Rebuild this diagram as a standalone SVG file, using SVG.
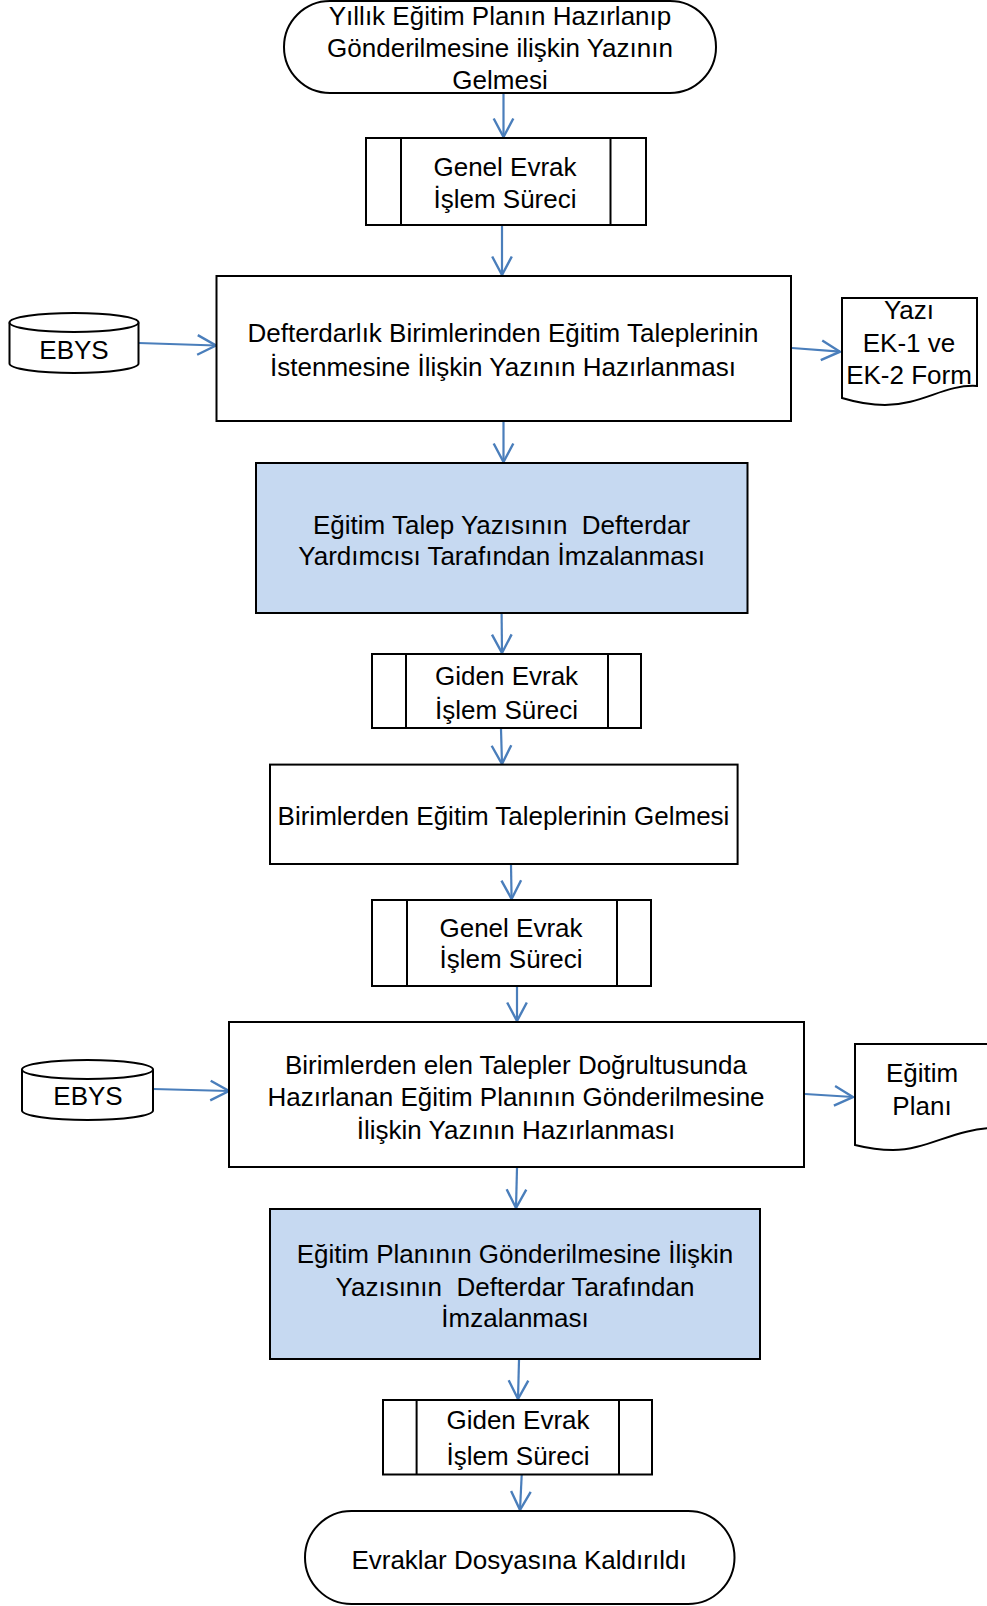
<svg xmlns="http://www.w3.org/2000/svg" width="987" height="1606" viewBox="0 0 987 1606">
<style>
.s{fill:#fff;stroke:#000;stroke-width:2}
.b{fill:#c6d9f1;stroke:#000;stroke-width:2}
.ln{fill:none;stroke:#000;stroke-width:2}
.t{font-family:"Liberation Sans",Arial,sans-serif;font-size:26px;fill:#000;text-anchor:middle;white-space:pre}
.c{fill:none;stroke:#4a7ebb;stroke-width:2.2}
</style>
<defs>
<marker id="ah" markerUnits="userSpaceOnUse" markerWidth="24" markerHeight="24" viewBox="-19 -11 22 22" refX="0" refY="0" orient="auto">
<path d="M-17,-9 L0,0 L-17,9" fill="none" stroke="#4a7ebb" stroke-width="2.2"/>
</marker>
</defs>
<rect width="987" height="1606" fill="#fff"/>
<g id="connectors">
<line class="c" x1="503.5" y1="93" x2="503.5" y2="137" marker-end="url(#ah)"/>
<line class="c" x1="502" y1="226" x2="502" y2="275" marker-end="url(#ah)"/>
<line class="c" x1="503.5" y1="422" x2="503.5" y2="462" marker-end="url(#ah)"/>
<line class="c" x1="501.6" y1="614" x2="502" y2="653" marker-end="url(#ah)"/>
<line class="c" x1="501" y1="729" x2="502" y2="764" marker-end="url(#ah)"/>
<line class="c" x1="511" y1="865" x2="511.6" y2="899" marker-end="url(#ah)"/>
<line class="c" x1="517" y1="987" x2="517" y2="1021" marker-end="url(#ah)"/>
<line class="c" x1="517" y1="1168" x2="516" y2="1208" marker-end="url(#ah)"/>
<line class="c" x1="519" y1="1360" x2="518" y2="1399" marker-end="url(#ah)"/>
<line class="c" x1="521.7" y1="1475" x2="520" y2="1510" marker-end="url(#ah)"/>
<line class="c" x1="138.5" y1="343" x2="216" y2="345.5" marker-end="url(#ah)"/>
<line class="c" x1="792" y1="348" x2="840" y2="351.7" marker-end="url(#ah)"/>
<line class="c" x1="153" y1="1089" x2="229" y2="1091" marker-end="url(#ah)"/>
<line class="c" x1="805" y1="1094" x2="853" y2="1097" marker-end="url(#ah)"/>
</g>
<g id="start">
<rect class="s" x="284" y="1" width="432" height="92" rx="46" ry="46"/>
<text class="t" x="500" y="25">Yıllık Eğitim Planın Hazırlanıp</text>
<text class="t" x="500" y="57">Gönderilmesine ilişkin Yazının</text>
<text class="t" x="500" y="89">Gelmesi</text>
</g>
<g id="genel1">
<rect class="s" x="366" y="138" width="280" height="87"/>
<line class="ln" x1="401" y1="138" x2="401" y2="225"/>
<line class="ln" x1="610.5" y1="138" x2="610.5" y2="225"/>
<text class="t" x="505" y="175.5">Genel Evrak</text>
<text class="t" x="505" y="208">İşlem Süreci</text>
</g>
<g id="ebys1">
<path class="s" d="M9.5,322.5 A64.5,9.5 0 0 1 138.5,322.5 V363.5 A64.5,9.5 0 0 1 9.5,363.5 Z"/>
<path class="ln" d="M9.5,322.5 A64.5,9.5 0 0 0 138.5,322.5"/>
<text class="t" x="74" y="359">EBYS</text>
</g>
<g id="hazirlama1">
<rect class="s" x="216.5" y="276" width="574.5" height="145"/>
<text class="t" x="503" y="342">Defterdarlık Birimlerinden Eğitim Taleplerinin</text>
<text class="t" x="503" y="375.5">İstenmesine İlişkin Yazının Hazırlanması</text>
</g>
<g id="doc1">
<path class="s" d="M842,298 H977 V386 C945,384 922,405 885,405 C866,405 852,401 842,398 Z"/>
<text class="t" x="909" y="319">Yazı</text>
<text class="t" x="909" y="352">EK-1 ve</text>
<text class="t" x="909" y="384">EK-2 Form</text>
</g>
<g id="imza1">
<rect class="b" x="256" y="463" width="491.5" height="150"/>
<text class="t" x="501.6" y="533.5">Eğitim Talep Yazısının  Defterdar</text>
<text class="t" x="501.6" y="564.5">Yardımcısı Tarafından İmzalanması</text>
</g>
<g id="giden1">
<rect class="s" x="372" y="654" width="269" height="74"/>
<line class="ln" x1="406" y1="654" x2="406" y2="728"/>
<line class="ln" x1="608" y1="654" x2="608" y2="728"/>
<text class="t" x="506.6" y="685">Giden Evrak</text>
<text class="t" x="506.6" y="719">İşlem Süreci</text>
</g>
<g id="gelme">
<rect class="s" x="270" y="764.6" width="467.6" height="99.4"/>
<text class="t" x="503.5" y="825">Birimlerden Eğitim Taleplerinin Gelmesi</text>
</g>
<g id="genel2">
<rect class="s" x="372" y="900" width="279" height="86"/>
<line class="ln" x1="407" y1="900" x2="407" y2="986"/>
<line class="ln" x1="617" y1="900" x2="617" y2="986"/>
<text class="t" x="511" y="936.5">Genel Evrak</text>
<text class="t" x="511" y="968">İşlem Süreci</text>
</g>
<g id="ebys2">
<path class="s" d="M22,1069.5 A65.5,9.5 0 0 1 153,1069.5 V1110.5 A65.5,9.5 0 0 1 22,1110.5 Z"/>
<path class="ln" d="M22,1069.5 A65.5,9.5 0 0 0 153,1069.5"/>
<text class="t" x="88" y="1105">EBYS</text>
</g>
<g id="hazirlama2">
<rect class="s" x="229" y="1022" width="575" height="145"/>
<text class="t" x="516" y="1073.5">Birimlerden elen Talepler Doğrultusunda</text>
<text class="t" x="516" y="1106">Hazırlanan Eğitim Planının Gönderilmesine</text>
<text class="t" x="516" y="1138.5">İlişkin Yazının Hazırlanması</text>
</g>
<g id="doc2">
<path class="s" d="M855,1044 H996 V1128 C955,1128 928,1150 893,1150 C876,1150 863,1147 855,1145 Z"/>
<text class="t" x="922" y="1082">Eğitim</text>
<text class="t" x="922" y="1115">Planı</text>
</g>
<g id="imza2">
<rect class="b" x="270" y="1209" width="490" height="150"/>
<text class="t" x="515" y="1263">Eğitim Planının Gönderilmesine İlişkin</text>
<text class="t" x="515" y="1295.5">Yazısının  Defterdar Tarafından</text>
<text class="t" x="515" y="1327">İmzalanması</text>
</g>
<g id="giden2">
<rect class="s" x="383" y="1400" width="269" height="74.5"/>
<line class="ln" x1="416.6" y1="1400" x2="416.6" y2="1474.5"/>
<line class="ln" x1="619" y1="1400" x2="619" y2="1474.5"/>
<text class="t" x="518" y="1429">Giden Evrak</text>
<text class="t" x="518" y="1464.5">İşlem Süreci</text>
</g>
<g id="end">
<rect class="s" x="305" y="1511" width="429.5" height="93" rx="46.5" ry="46.5"/>
<text class="t" x="519" y="1568.5">Evraklar Dosyasına Kaldırıldı</text>
</g>
</svg>
